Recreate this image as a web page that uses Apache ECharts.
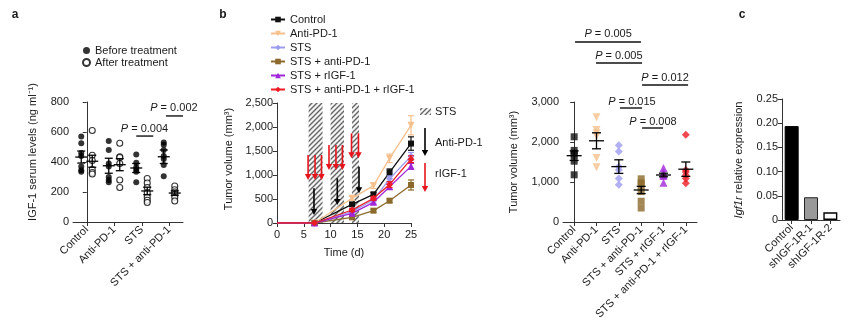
<!DOCTYPE html>
<html><head><meta charset="utf-8">
<script src="https://cdn.jsdelivr.net/npm/echarts@6/dist/echarts.min.js"></script>
<style>html,body{margin:0;padding:0;background:#fff}#c{width:865px;height:329px}</style>
</head><body><div id="c"></div>
<script>
// ---------------- Panel a : IGF-1 serum levels ----------------
const aCategories = ['Control', 'Anti-PD-1', 'STS', 'STS + anti-PD-1'];
const aLegend = ['Before treatment', 'After treatment'];
const aBefore = [[570, 525, 460, 440, 370, 345, 335], [540, 480, 390, 370, 300, 280, 265], [450, 395, 365, 350, 335, 265], [530, 515, 480, 440, 420, 380, 305]];
const aAfter = [[610, 445, 410, 350, 330, 320], [525, 435, 430, 390, 280, 230], [290, 260, 230, 195, 165, 145, 130], [240, 215, 200, 185, 165, 140]];
const aBeforeMean = [433, 375, 360, 435];
const aBeforeSem = [40, 50, 30, 45];
const aAfterMean = [405, 382, 207, 193];
const aAfterSem = [40, 40, 25, 15];
const aYMax = 800, aYStep = 200;
const aSigText = ['0.004', '0.002'];
const aSigLine = [[1.8, 2.42, 573], [2.88, 3.5, 707]];
const aSigLabel = [[2.1, 622], [3.17, 762]];

// ---------------- Panel b : tumor growth ----------------
const bNames = ['Control', 'Anti-PD-1', 'STS', 'STS + anti-PD-1', 'STS + rIGF-1', 'STS + anti-PD-1 + rIGF-1'];
const bDays = [0, 7, 14, 18, 21, 25];
const bControl = [0, 0, 389, 597, 1056, 1655];
const bAntiPD1 = [0, 0, 514, 778, 1347, 2035];
const bSTS = [0, 0, 236, 479, 920, 1390];
const bSTSAnti = [0, 0, 118, 257, 465, 792];
const bSTSrIGF = [0, 0, 201, 431, 757, 1180];
const bSTSAntiRIGF = [0, 0, 271, 514, 800, 1330];
const bErrControl = [0, 0, 30, 40, 70, 140];
const bErrAntiPD1 = [0, 0, 40, 60, 90, 200];
const bErrSTS = [0, 0, 30, 40, 60, 80];
const bErrSTSAnti = [0, 0, 20, 30, 40, 105];
const bErrSTSrIGF = [0, 0, 30, 40, 50, 60];
const bErrSTSAntiRIGF = [0, 0, 30, 40, 60, 70];
const bSTSPeriods = [[5.9, 8.5], [10, 12.5], [14, 15.3]];
const bRIGFArrows = [[5.8, 1417, 896], [7.1, 1417, 896], [8.3, 1417, 896], [9.7, 1625, 1104], [11.0, 1625, 1104], [12.2, 1625, 1104], [13.9, 1868, 1347], [15.2, 1868, 1347]];
const bAntiArrows = [[6.9, 722, 167], [11.25, 931, 375], [15.3, 1174, 618]];
const bYMax = 2500, bYStep = 500, bXMax = 25, bXStep = 5;

// ---------------- Panel b : end-point tumor volume ----------------
const dCategories = ['Control', 'Anti-PD-1', 'STS', 'STS + anti-PD-1', 'STS + rIGF-1', 'STS + anti-PD-1 + rIGF-1'];
const dValues = [[2130, 1790, 1720, 1680, 1520, 1180], [2620, 2300, 2220, 2150, 1600, 1370], [1920, 1760, 1380, 1300, 1090, 930], [1080, 980, 920, 760, 520, 350], [1350, 1230, 1180, 1150, 980], [2180, 1300, 1250, 1170, 1090, 970]];
const dMean = [1658, 2030, 1385, 800, 1175, 1320];
const dSem = [120, 200, 170, 90, 45, 180];
const dYMax = 3000, dYStep = 1000;
const dSigText = ['0.005', '0.005', '0.012', '0.015', '0.008'];
const dSigLine = [[0.04, 2.99, 4500], [0.98, 3.04, 3975], [3.04, 5.1, 3425], [2.05, 3.04, 2850], [3.04, 3.98, 2350]];
const dSigLabel = [[1.52, 4690], [2.0, 4160], [4.07, 3610], [2.59, 3010], [3.53, 2510]];

// ---------------- Panel c : Igf1r expression ----------------
const cCategories = ['Control', 'shIGF-1R-1', 'shIGF-1R-2'];
const cValues = [0.194, 0.047, 0.016];
const cYMax = 0.25, cYStep = 0.05;

// ================= drawing =================
const FONT = "'Liberation Sans', Arial, sans-serif";
const TXT = '#1a1a1a';
const AX = '#333';
const groupColors = ['#111111', '#F5C08C', '#9C9CF0', '#8C6A2C', '#A126D8', '#EC1C26'];
const groupSymbols = ['rect', 'triangle', 'diamond', 'rect', 'triangle', 'diamond'];
const groupRotate = [0, 180, 0, 0, 0, 0];
const groupSize = [6, 7, 7, 6, 7, 7];

const chart = echarts.init(document.getElementById('c'));

function hatchCanvas() {
  const c = document.createElement('canvas');
  c.width = 5; c.height = 5;
  const g = c.getContext('2d');
  g.fillStyle = '#f4f4f4'; g.fillRect(0, 0, 5, 5);
  g.strokeStyle = '#666'; g.lineWidth = 1.4;
  g.beginPath();
  g.moveTo(-1, 6); g.lineTo(6, -1);
  g.moveTo(-1, 1); g.lineTo(1, -1);
  g.moveTo(4, 6); g.lineTo(6, 4);
  g.stroke();
  return c;
}
const HATCH = { image: hatchCanvas(), repeat: 'repeat' };

function axisBase(extra) {
  return Object.assign({
    axisLine: { show: true, lineStyle: { color: AX, width: 1 } },
    axisTick: { show: true, length: 4, lineStyle: { color: AX } },
    axisLabel: { color: TXT, fontSize: 11, fontFamily: FONT, margin: 4 },
    splitLine: { show: false }
  }, extra);
}
function hiddenAxis(gi, min, max) {
  return { type: 'value', gridIndex: gi, min: min, max: max, show: false, splitLine: { show: false } };
}
const comma = v => v.toLocaleString('en-US');

function meanSem(halfW, capW, color) {
  return function (params, api) {
    const x = api.value(0), m = api.value(1), s = api.value(2);
    const c = api.coord([x, m]), t = api.coord([x, m + s]), b = api.coord([x, m - s]);
    const st = { stroke: color || '#000', lineWidth: 1.3 };
    return { type: 'group', children: [
      { type: 'line', shape: { x1: c[0] - halfW, y1: c[1], x2: c[0] + halfW, y2: c[1] }, style: st },
      { type: 'line', shape: { x1: c[0], y1: t[1], x2: c[0], y2: b[1] }, style: st },
      { type: 'line', shape: { x1: c[0] - capW, y1: t[1], x2: c[0] + capW, y2: t[1] }, style: st },
      { type: 'line', shape: { x1: c[0] - capW, y1: b[1], x2: c[0] + capW, y2: b[1] }, style: st }
    ] };
  };
}
function bracket(texts, labels) {
  return function (params, api) {
    const i = params.dataIndex;
    const a = api.coord([api.value(0), api.value(2)]), b = api.coord([api.value(1), api.value(2)]);
    const t = api.coord(labels[i]);
    return { type: 'group', children: [
      { type: 'line', shape: { x1: a[0], y1: a[1], x2: b[0], y2: b[1] }, style: { stroke: '#111', lineWidth: 1.4 } },
      { type: 'text', x: t[0], y: t[1], style: {
        text: '{i|P} = ' + texts[i], fontSize: 11, fontFamily: FONT, fill: TXT,
        rich: { i: { fontStyle: 'italic', fontSize: 11, fontFamily: FONT, fill: TXT } },
        align: 'center', verticalAlign: 'middle' } }
    ] };
  };
}
function arrowRender(color) {
  return function (params, api) {
    const top = api.coord([api.value(0), api.value(1)]);
    const tip = api.coord([api.value(0), api.value(2)]);
    const head = 6, hw = 3.2;
    return { type: 'group', children: [
      { type: 'line', shape: { x1: top[0], y1: top[1], x2: tip[0], y2: tip[1] - head + 1 }, style: { stroke: color, lineWidth: 1.6 } },
      { type: 'polygon', shape: { points: [[tip[0] - hw, tip[1] - head], [tip[0] + hw, tip[1] - head], [tip[0], tip[1]]] }, style: { fill: color } }
    ] };
  };
}

const series = [];
// ---- panel a
series.push({
  name: aLegend[0], type: 'scatter', xAxisIndex: 1, yAxisIndex: 0, symbol: 'circle', symbolSize: 6,
  itemStyle: { color: '#000' }, z: 3,
  data: aBefore.flatMap((g, gi) => g.map(v => [gi - 0.2, v]))
});
series.push({
  name: aLegend[1], type: 'scatter', xAxisIndex: 1, yAxisIndex: 0, symbol: 'circle', symbolSize: 6,
  itemStyle: { color: '#fff', borderColor: '#000', borderWidth: 1.1 }, z: 3,
  data: aAfter.flatMap((g, gi) => g.map(v => [gi + 0.2, v]))
});
series.push({
  type: 'custom', xAxisIndex: 1, yAxisIndex: 0, z: 4, renderItem: meanSem(6, 4),
  data: aBeforeMean.map((m, i) => [i - 0.2, m, aBeforeSem[i]]).concat(aAfterMean.map((m, i) => [i + 0.2, m, aAfterSem[i]]))
});
series.push({
  type: 'custom', xAxisIndex: 1, yAxisIndex: 0, z: 5, clip: false, renderItem: bracket(aSigText, aSigLabel),
  data: aSigLine
});

// ---- panel b line chart
series.push({
  type: 'custom', xAxisIndex: 2, yAxisIndex: 1, z: 1, silent: true,
  renderItem: function (params, api) {
    const p0 = api.coord([api.value(0), bYMax]), p1 = api.coord([api.value(1), 0]);
    return { type: 'rect', shape: { x: p0[0], y: p0[1], width: p1[0] - p0[0], height: p1[1] - p0[1] }, style: { fill: HATCH } };
  },
  data: bSTSPeriods
});
series.push({ type: 'custom', xAxisIndex: 2, yAxisIndex: 1, z: 2, renderItem: arrowRender('#E8141C'), data: bRIGFArrows });
series.push({ type: 'custom', xAxisIndex: 2, yAxisIndex: 1, z: 2, renderItem: arrowRender('#000'), data: bAntiArrows });
const bValues = [bControl, bAntiPD1, bSTS, bSTSAnti, bSTSrIGF, bSTSAntiRIGF];
const bErrs = [bErrControl, bErrAntiPD1, bErrSTS, bErrSTSAnti, bErrSTSrIGF, bErrSTSAntiRIGF];
bValues.forEach((vals, s) => {
  series.push({
    type: 'custom', xAxisIndex: 2, yAxisIndex: 1, z: 3 + s, clip: false,
    renderItem: function (params, api) {
      const x = api.value(0), m = api.value(1), e = api.value(2);
      if (!e) return null;
      const t = api.coord([x, m + e]), b = api.coord([x, m - e]);
      const st = { stroke: groupColors[s], lineWidth: 1.2 };
      return { type: 'group', children: [
        { type: 'line', shape: { x1: t[0], y1: t[1], x2: b[0], y2: b[1] }, style: st },
        { type: 'line', shape: { x1: t[0] - 3, y1: t[1], x2: t[0] + 3, y2: t[1] }, style: st },
        { type: 'line', shape: { x1: b[0] - 3, y1: b[1], x2: b[0] + 3, y2: b[1] }, style: st }
      ] };
    },
    data: bDays.map((d, i) => [d, vals[i], bErrs[s][i]])
  });
  series.push({
    name: bNames[s], type: 'line', xAxisIndex: 2, yAxisIndex: 1, z: 3 + s,
    symbol: groupSymbols[s], symbolRotate: groupRotate[s], symbolSize: groupSize[s],
    color: groupColors[s], lineStyle: { width: 1.3, color: groupColors[s] }, itemStyle: { color: groupColors[s] },
    data: bDays.map((d, i) => i === 0 ? { value: [d, vals[i]], symbolSize: 0 } : [d, vals[i]])
  });
});

// ---- panel b dot plot
dValues.forEach((vals, g) => {
  series.push({
    type: 'scatter', xAxisIndex: 3, yAxisIndex: 2, z: 3,
    symbol: groupSymbols[g], symbolRotate: groupRotate[g], symbolSize: groupSize[g] + 1,
    itemStyle: { color: groupColors[g] },
    data: vals.map(v => [g, v])
  });
});
series.push({
  type: 'custom', xAxisIndex: 4, yAxisIndex: 2, z: 4, renderItem: meanSem(7.5, 4.5),
  data: dMean.map((m, i) => [i, m, dSem[i]])
});
series.push({
  type: 'custom', xAxisIndex: 4, yAxisIndex: 2, z: 5, clip: false, renderItem: bracket(dSigText, dSigLabel),
  data: dSigLine
});

// ---- panel c
series.push({
  type: 'bar', xAxisIndex: 5, yAxisIndex: 3, barWidth: 14,
  data: cValues.map((v, i) => ({
    value: v,
    itemStyle: [{ color: '#000', borderColor: '#000', borderWidth: 1 }, { color: '#999', borderColor: '#222', borderWidth: 1 }, { color: '#fff', borderColor: '#000', borderWidth: 1.4 }][i]
  }))
});

const hatchLegend = { type: 'rect', shape: { x: 420, y: 108, width: 11, height: 7 }, style: { fill: HATCH } };
function gArrow(x, y1, y2, color) {
  return [
    { type: 'line', shape: { x1: x, y1: y1, x2: x, y2: y2 - 5 }, style: { stroke: color, lineWidth: 1.6 } },
    { type: 'polygon', shape: { points: [[x - 3.2, y2 - 6], [x + 3.2, y2 - 6], [x, y2]] }, style: { fill: color } }
  ];
}
function gText(x, y, text, opts) {
  return Object.assign({ type: 'text', x: x, y: y, style: Object.assign({ text: text, fontSize: 11, fontFamily: FONT, fill: TXT, align: 'left', verticalAlign: 'middle' }, (opts && opts.style) || {}) }, (opts && opts.el) || {});
}
function vTitle(x, y, text, rich) {
  return { type: 'text', x: x, y: y, rotation: Math.PI / 2,
    style: { text: text, fontSize: 11, fontFamily: FONT, fill: TXT, align: 'center', verticalAlign: 'middle', rich: rich || {} } };
}

const option = {
  animation: false,
  backgroundColor: '#fff',
  textStyle: { fontFamily: FONT, color: TXT },
  grid: [
    { left: 73, top: 102, width: 110, height: 120, outerBoundsMode: 'none', containLabel: false },
    { left: 277, top: 103, width: 134, height: 120, outerBoundsMode: 'none', containLabel: false },
    { left: 563, top: 102, width: 134, height: 120, outerBoundsMode: 'none', containLabel: false },
    { left: 782, top: 99, width: 58, height: 121, outerBoundsMode: 'none', containLabel: false }
  ],
  xAxis: [
    axisBase({ type: 'category', gridIndex: 0, data: aCategories, boundaryGap: true,
      axisTick: { show: true, alignWithLabel: true, length: 4, lineStyle: { color: AX } },
      axisLabel: { color: TXT, fontSize: 11, fontFamily: FONT, rotate: 45, margin: 6, interval: 0 } }),
    hiddenAxis(0, -0.5, 3.5),
    axisBase({ type: 'value', gridIndex: 1, min: 0, max: bXMax, interval: bXStep,
      axisLabel: { color: TXT, fontSize: 11, fontFamily: FONT, margin: 6 } }),
    axisBase({ type: 'category', gridIndex: 2, data: dCategories, boundaryGap: true,
      axisTick: { show: true, alignWithLabel: true, length: 4, lineStyle: { color: AX } },
      axisLabel: { color: TXT, fontSize: 11, fontFamily: FONT, rotate: 45, margin: 6, interval: 0 } }),
    hiddenAxis(2, -0.5, 5.5),
    axisBase({ type: 'category', gridIndex: 3, data: cCategories, boundaryGap: true,
      axisTick: { show: true, alignWithLabel: true, length: 4, lineStyle: { color: AX } },
      axisLabel: { color: TXT, fontSize: 11, fontFamily: FONT, rotate: 45, margin: 6, interval: 0 } })
  ],
  yAxis: [
    axisBase({ type: 'value', gridIndex: 0, min: 0, max: aYMax, interval: aYStep }),
    axisBase({ type: 'value', gridIndex: 1, min: 0, max: bYMax, interval: bYStep,
      axisLabel: { color: TXT, fontSize: 11, fontFamily: FONT, margin: 4, formatter: comma } }),
    axisBase({ type: 'value', gridIndex: 2, min: 0, max: dYMax, interval: dYStep,
      axisLabel: { color: TXT, fontSize: 11, fontFamily: FONT, margin: 4, formatter: comma } }),
    axisBase({ type: 'value', gridIndex: 3, min: 0, max: cYMax, interval: cYStep,
      axisLabel: { color: TXT, fontSize: 11, fontFamily: FONT, margin: 4, formatter: v => v === 0 ? '0' : v.toFixed(2) } })
  ],
  legend: [
    { data: aLegend, orient: 'vertical', left: 82, top: 45, padding: 0, itemWidth: 7, itemHeight: 7, itemGap: 1,
      textStyle: { fontSize: 11, fontFamily: FONT, color: TXT, lineHeight: 11 }, selectedMode: false },
    { data: bNames, orient: 'vertical', left: 270, top: 14, padding: 0, itemWidth: 14, itemHeight: 7, itemGap: 3,
      textStyle: { fontSize: 11, fontFamily: FONT, color: TXT, lineHeight: 11 }, selectedMode: false }
  ],
  graphic: [
    gText(15, 15, 'a', { style: { fontWeight: 'bold', fontSize: 12, align: 'center' } }),
    gText(223, 15, 'b', { style: { fontWeight: 'bold', fontSize: 12, align: 'center' } }),
    gText(742, 15, 'c', { style: { fontWeight: 'bold', fontSize: 12, align: 'center' } }),
    vTitle(33, 152, 'IGF-1 serum levels (ng ml\u207B\u00B9)'),
    vTitle(229, 159, 'Tumor volume (mm\u00B3)'),
    vTitle(514, 162, 'Tumor volume (mm\u00B3)'),
    vTitle(739, 160, '{i|Igf1r} relative expression', { i: { fontStyle: 'italic', fontSize: 11, fontFamily: FONT, fill: TXT } }),
    gText(344, 253, 'Time (d)', { style: { align: 'center' } }),
    hatchLegend,
    gText(435, 112, 'STS'),
    ...gArrow(425, 128, 156, '#000'),
    gText(435, 143, 'Anti-PD-1'),
    ...gArrow(425, 163, 192, '#E8141C'),
    gText(435, 174, 'rIGF-1')
  ],
  series: series
};
chart.setOption(option);
</script>
</body></html>
